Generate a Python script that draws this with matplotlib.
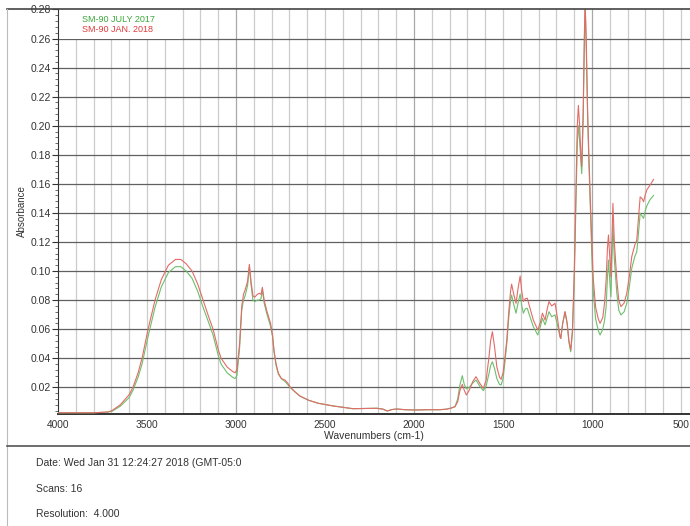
import matplotlib
matplotlib.use("Agg")
import matplotlib.pyplot as plt
from matplotlib.lines import Line2D
from matplotlib.patches import Rectangle
import numpy as np

plt.rcParams['font.family'] = ['Liberation Sans', 'DejaVu Sans']

# wavenumbers (cm-1) and absorbance
wavenumbers = [4000, 3800, 3720, 3697, 3650, 3600, 3579, 3550, 3528, 3494, 3455, 3420, 3380, 3340,
               3310, 3280, 3247, 3215, 3185, 3155, 3129, 3100, 3084, 3050, 3020, 3006, 2995, 2980,
               2968, 2958, 2949, 2935, 2925, 2915, 2905, 2895, 2880, 2869, 2860, 2852, 2842, 2828,
               2806, 2795, 2787, 2775, 2762, 2745, 2725, 2710, 2697, 2670, 2640, 2590, 2537, 2455,
               2343, 2260, 2210, 2175, 2150, 2125, 2097, 2050, 1997, 1920, 1855, 1816, 1790, 1770,
               1755, 1742, 1729, 1718, 1706, 1690, 1670, 1652, 1632, 1611, 1595, 1580, 1570, 1560,
               1548, 1535, 1520, 1511, 1500, 1490, 1479, 1468, 1458, 1452, 1440, 1427, 1416, 1404,
               1395, 1386, 1375, 1364, 1350, 1330, 1305, 1290, 1279, 1264, 1252, 1242, 1227, 1208,
               1195, 1180, 1176, 1165, 1152, 1140, 1130, 1120, 1110, 1100, 1090, 1083, 1077, 1070,
               1063, 1058, 1050, 1043, 1039, 1033, 1025, 1018, 1011, 1000, 993, 980, 965, 955,
               940, 930, 921, 914, 908, 901, 894, 888, 883, 875, 861, 850, 838, 820,
               805, 790, 777, 760, 749, 740, 730, 720, 711, 700, 692, 675, 655]

jan_2018 = [0.0025, 0.0025, 0.003, 0.004, 0.008, 0.015, 0.020, 0.030, 0.040, 0.060, 0.080, 0.094, 0.104, 0.108,
            0.108, 0.105, 0.100, 0.091, 0.080, 0.069, 0.060, 0.046, 0.040, 0.034, 0.031, 0.030, 0.032, 0.050,
            0.0755, 0.084, 0.087, 0.093, 0.1046, 0.092, 0.083, 0.082, 0.084, 0.0847, 0.084, 0.0888, 0.080, 0.073,
            0.064, 0.056, 0.0457, 0.036, 0.0297, 0.026, 0.025, 0.023, 0.0204, 0.017, 0.0140, 0.011, 0.009, 0.0072,
            0.0053, 0.0055, 0.0056, 0.005, 0.0037, 0.0047, 0.0051, 0.0046, 0.0044, 0.0046, 0.0046, 0.005, 0.0058, 0.0067,
            0.010, 0.018, 0.022, 0.018, 0.0147, 0.018, 0.024, 0.0273, 0.023, 0.0193, 0.025, 0.040, 0.052, 0.0583,
            0.048, 0.034, 0.027, 0.0255, 0.030, 0.040, 0.0526, 0.072, 0.086, 0.091, 0.084, 0.0778, 0.088, 0.0966,
            0.086, 0.079, 0.081, 0.0813, 0.075, 0.0663, 0.0594, 0.065, 0.071, 0.0663, 0.074, 0.079, 0.076, 0.0778,
            0.068, 0.0548, 0.0537, 0.064, 0.072, 0.064, 0.052, 0.0457, 0.060, 0.100, 0.160, 0.200, 0.214, 0.200,
            0.180, 0.172, 0.210, 0.265, 0.285, 0.260, 0.210, 0.180, 0.153, 0.115, 0.094, 0.075, 0.067, 0.064,
            0.068, 0.078, 0.094, 0.115, 0.1248, 0.110, 0.096, 0.125, 0.1466, 0.120, 0.094, 0.080, 0.0755, 0.078,
            0.0847, 0.097, 0.110, 0.118, 0.1214, 0.135, 0.151, 0.150, 0.1477, 0.153, 0.156, 0.159, 0.163]

july_2017 = [0.0025, 0.0025, 0.003, 0.0035, 0.007, 0.013, 0.018, 0.027, 0.036, 0.055, 0.075, 0.089, 0.099, 0.103,
             0.103, 0.100, 0.095, 0.086, 0.075, 0.065, 0.056, 0.042, 0.036, 0.030, 0.027, 0.026, 0.028, 0.047,
             0.073, 0.080, 0.083, 0.090, 0.103, 0.090, 0.080, 0.079, 0.080, 0.080, 0.081, 0.087, 0.078, 0.071,
             0.062, 0.055, 0.045, 0.035, 0.029, 0.026, 0.024, 0.022, 0.020, 0.017, 0.0138, 0.011, 0.009, 0.0072,
             0.0053, 0.0055, 0.0056, 0.005, 0.0037, 0.0047, 0.0051, 0.0046, 0.0044, 0.0046, 0.0046, 0.005, 0.0058, 0.0067,
             0.012, 0.022, 0.028, 0.022, 0.019, 0.020, 0.023, 0.025, 0.021, 0.0177, 0.021, 0.029, 0.035, 0.0376,
             0.033, 0.026, 0.022, 0.0216, 0.026, 0.037, 0.050, 0.068, 0.080, 0.0835, 0.077, 0.071, 0.078, 0.0842,
             0.076, 0.071, 0.074, 0.0744, 0.069, 0.0617, 0.056, 0.062, 0.0675, 0.063, 0.068, 0.072, 0.0686, 0.0698,
             0.063, 0.0548, 0.0537, 0.064, 0.072, 0.064, 0.051, 0.0445, 0.058, 0.095, 0.150, 0.188, 0.200, 0.190,
             0.175, 0.167, 0.205, 0.260, 0.283, 0.255, 0.205, 0.175, 0.148, 0.105, 0.085, 0.067, 0.059, 0.056,
             0.060, 0.066, 0.0755, 0.095, 0.1076, 0.094, 0.0823, 0.110, 0.1317, 0.108, 0.0847, 0.073, 0.0698, 0.072,
             0.0778, 0.090, 0.102, 0.110, 0.1133, 0.125, 0.1397, 0.138, 0.1363, 0.142, 0.145, 0.149, 0.152]

series_names = ["SM-90 JULY 2017", "SM-90 JAN. 2018"]
footer_lines = ["Date: Wed Jan 31 12:24:27 2018 (GMT-05:0", "Scans: 16", "Resolution:  4.000"]

W, H = 690, 526
fig = plt.figure(figsize=(W / 100, H / 100), dpi=100)
ax = fig.add_axes([58 / W, 1 - 414 / H, 1 - 58 / W, (414 - 9) / H])

ax.set_xlim(4000, 450)
ax.set_ylim(0.00165, 0.2803)

# grid: light verticals every 100, darker every 1000, dark horizontals every 0.02
for x in range(500, 4000, 100):
    c = "#a8a8a8" if x % 1000 == 0 else "#cccccc"
    ax.axvline(x, color=c, lw=0.9, zorder=1)
yt = [round(0.02 * i, 2) for i in range(1, 15)]
for y in yt[:-1]:
    ax.axhline(y, color="#606060", lw=0.9, zorder=1)

# legend box (white, covers grid)
ax.add_patch(Rectangle((0, 1 - 29.5 / 405), 124 / 632, 29.5 / 405, transform=ax.transAxes,
                       facecolor="white", edgecolor="none", zorder=2))

ax.plot(wavenumbers, july_2017, color="#6cbf6c", lw=0.8, zorder=3)
ax.plot(wavenumbers, jan_2018, color="#e26b68", lw=0.8, zorder=4)

ax.text(24 / 632, 1 - 10 / 405, series_names[0], transform=ax.transAxes, color="#3aa83a",
        fontsize=6.5, va="center", zorder=5)
ax.text(24 / 632, 1 - 21 / 405, series_names[1], transform=ax.transAxes, color="#e03a3a",
        fontsize=6.5, va="center", zorder=5)

ax.set_xticks([4000, 3500, 3000, 2500, 2000, 1500, 1000, 500])
ax.set_xticklabels(["4000", "3500", "3000", "2500", "2000", "1500", "1000", "500"])
ax.set_yticks(yt)
ax.set_yticklabels(["%.2f" % v for v in yt])
ax.set_yticks(np.arange(0.004, 0.2803, 0.004), minor=True)
ax.tick_params(axis="x", length=0, labelsize=7.3, pad=4, colors="#333333")
ax.tick_params(axis="y", which="major", length=4, labelsize=7.5, pad=1, colors="#333333")
ax.tick_params(axis="y", which="minor", length=2.5, colors="#555555")

ax.set_xlabel("Wavenumbers (cm-1)", fontsize=7.5, labelpad=1, color="#333333")
ax.set_ylabel("Absorbance", fontsize=7, labelpad=3, color="#333333")

for s in ["top", "right"]:
    ax.spines[s].set_visible(False)
ax.spines["left"].set_color("#333333")
ax.spines["bottom"].set_color("#333333")
ax.spines["bottom"].set_linewidth(1.4)

# page frame lines from the printout
fig.add_artist(Line2D([7 / W, 1], [1 - 9 / H, 1 - 9 / H], color="#444444", lw=1.2))
fig.add_artist(Line2D([7 / W, 7 / W], [0, 1 - 9 / H], color="#bbbbbb", lw=0.8))
fig.add_artist(Line2D([7 / W, 1], [1 - 446 / H, 1 - 446 / H], color="#555555", lw=1.2))

for i, t in enumerate(footer_lines):
    fig.text(36 / W, 1 - (463 + 25.5 * i) / H, t, fontsize=7.5, va="center", color="#333333")

fig.savefig("out.png", dpi=100)
